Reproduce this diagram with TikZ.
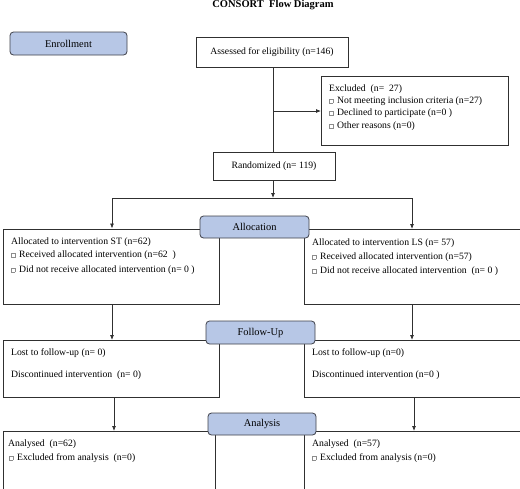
\documentclass[tikz,border=0pt]{standalone}
\usepackage{fontspec}
\setmainfont{Liberation Serif}
\usetikzlibrary{arrows.meta}
\definecolor{lblue}{HTML}{B7C7E6}
\definecolor{lborder}{HTML}{3E4049}
\definecolor{lnc}{HTML}{303030}
\newcommand{\bx}{\raisebox{0.4pt}{\color{black!45}\setlength{\fboxsep}{0pt}\setlength{\fboxrule}{0.4pt}\fbox{\rule{0pt}{4pt}\rule{3.2pt}{0pt}}}\hspace{4pt}}
\begin{document}
\begin{tikzpicture}[x=1pt,y=-1pt,
  box/.style={draw=lnc, line width=0.75pt, rectangle, inner sep=0pt, anchor=north west},
  cbox/.style={draw=lnc, line width=0.75pt, rectangle, inner sep=0pt, font=\fontsize{9.7}{11}\selectfont},
  stage/.style={draw=lborder, fill=lblue, rounded corners=3.5pt, line width=0.8pt, inner sep=0pt, font=\fontsize{10.4}{12}\selectfont},
  txt/.style={anchor=west, inner sep=0pt, font=\fontsize{9.7}{11}\selectfont},
  arr/.style={-{Latex[length=5pt,width=4pt]}, line width=0.75pt, draw=lnc},
  ln/.style={line width=0.75pt, draw=lnc}]
\useasboundingbox (0,0) rectangle (520,488);

% title
\node[inner sep=0pt, font=\fontsize{10.5}{12}\bfseries] (title) at (273,5) {CONSORT\ \ Flow Diagram};

% enrollment
\node[stage, minimum width=117, minimum height=23] (enr) at (68.5,43.5) {Enrollment};
\node[cbox, minimum width=152, minimum height=30] (ass) at (272,52) {Assessed for eligibility (n=146)};
\node[box, minimum width=187, minimum height=69] (exc) at (321,76) {};
\node[txt] (e1) at (329,89) {Excluded\ \ (n=\ \ 27)};
\node[txt] (e2) at (329,101) {\bx Not meeting inclusion criteria (n=27)};
\node[txt] (e3) at (329,113.5) {\bx Declined to participate (n=0 )};
\node[txt] (e4) at (329,126.5) {\bx Other reasons (n=0)};
\node[cbox, minimum width=122, minimum height=28] (rand) at (274,166.5) {Randomized (n= 119)};

\coordinate (br) at (273,111);
\draw[ln] (ass.south -| br) -- (rand.north -| br);
\draw[arr] (br) -- (exc.west |- br);

% allocation
\node[box, minimum width=216, minimum height=75] (alL) at (3,228.5) {};
\node[box, minimum width=216, minimum height=75] (alR) at (304,229) {};
\node[txt] (a1) at (11,242) {Allocated to intervention ST (n=62)};
\node[txt] (a2) at (11,255.5) {\bx Received allocated intervention (n=62\ \ )};
\node[txt] (a3) at (11,270) {\bx Did not receive allocated intervention (n= 0 )};
\node[txt] (b1) at (312,243) {Allocated to intervention LS (n= 57)};
\node[txt] (b2) at (312,257) {\bx Received allocated intervention (n=57)};
\node[txt] (b3) at (312,271.5) {\bx Did not receive allocated intervention\ \ (n= 0 )};
\node[stage, minimum width=109, minimum height=22] (alloc) at (254.5,227) {Allocation};

\coordinate (jn) at (273,198);
\coordinate (sL) at (112,198);
\coordinate (sR) at (412,198);
\draw[arr] (rand.south -| jn) -- (jn);
\draw[ln] (sL) -- (sR);
\draw[arr] (sL) -- (sL |- alL.north);
\draw[arr] (sR) -- (sR |- alR.north);

% follow-up
\node[box, minimum width=216, minimum height=57] (fuL) at (3,340) {};
\node[box, minimum width=216, minimum height=57] (fuR) at (304,340) {};
\node[txt] (f1) at (11,353) {Lost to follow-up (n= 0)};
\node[txt] (f2) at (11,375) {Discontinued intervention\ \ (n= 0)};
\node[txt] (g1) at (312,353) {Lost to follow-up (n=0)};
\node[txt] (g2) at (312,375) {Discontinued intervention (n=0 )};
\node[stage, minimum width=109, minimum height=23] (fu) at (260.5,332.5) {Follow-Up};
\draw[arr] (alL.south -| sL) -- (fuL.north -| sL);
\draw[arr] (alR.south -| sR) -- (fuR.north -| sR);

% analysis
\coordinate (tL) at (114,400);
\coordinate (tR) at (414,400);
\node[box, minimum width=212, minimum height=62] (anL) at (3,431) {};
\node[box, minimum width=216, minimum height=62] (anR) at (304,431) {};
\node[txt] (h1) at (8,444.5) {Analysed\ \ (n=62)};
\node[txt] (h2) at (9,458) {\bx Excluded from analysis\ \ (n=0)};
\node[txt] (k1) at (312,444.5) {Analysed\ \ (n=57)};
\node[txt] (k2) at (312,458) {\bx Excluded from analysis (n=0)};
\node[stage, minimum width=108, minimum height=22] (an) at (262,424) {Analysis};
\draw[arr] (fuL.south -| tL) -- (anL.north -| tL);
\draw[arr] (fuR.south -| tR) -- (anR.north -| tR);
\end{tikzpicture}
\end{document}
